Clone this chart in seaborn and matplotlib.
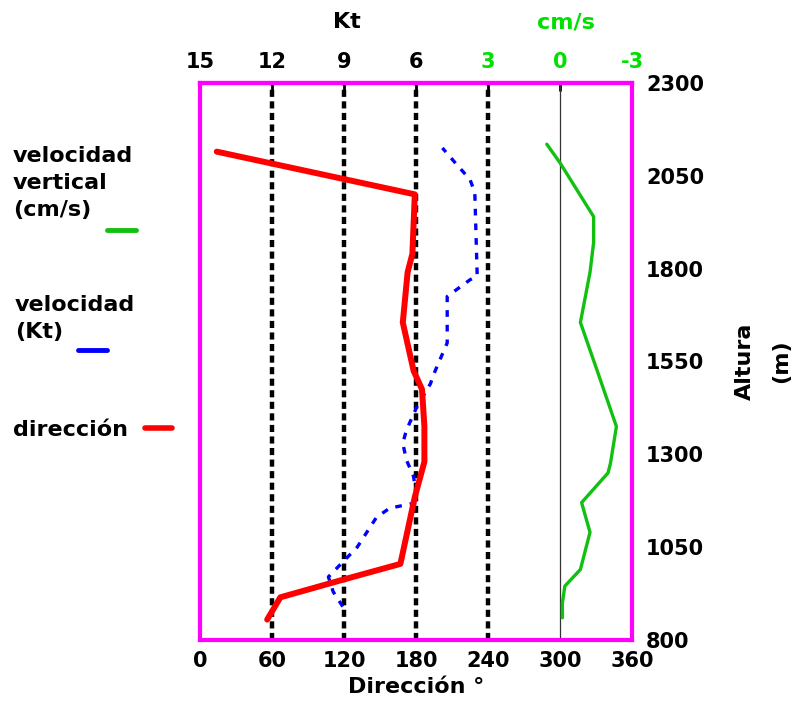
import matplotlib
matplotlib.use('Agg')
import matplotlib.pyplot as plt
from matplotlib.lines import Line2D
import seaborn as sns
import numpy as np
import pandas as pd

#-----------
# DATA
#-----------
# direction (degrees) vs altitude (m)
alt_dir = [2115, 2000, 1840, 1790, 1655, 1525, 1475, 1375, 1280, 1185, 1005, 965, 915, 855]
dir_deg = [14, 179, 177, 173, 169, 178, 185, 187, 187, 179, 167, 122, 67, 56]

# wind speed (Kt) vs altitude (m)
alt_kt = [2125, 2080, 2040, 2005, 1780, 1770, 1725, 1600, 1525, 1490, 1430, 1365,
          1330, 1285, 1240, 1170, 1155, 1130, 1050, 1010, 970, 930, 890]
speed_kt = [4.9, 4.3, 3.75, 3.55, 3.45, 3.75, 4.7, 4.7, 5.2, 5.4, 5.95, 6.4,
            6.55, 6.4, 6.1, 5.95, 7.1, 7.65, 8.45, 9.05, 9.65, 9.45, 9.05]

# vertical velocity (cm/s) vs altitude (m)
alt_w = [2135, 2085, 1940, 1870, 1790, 1655, 1525, 1375, 1275, 1250, 1170, 1090, 990, 945, 900, 860]
w_cms = [0.55, 0.0, -1.4, -1.4, -1.25, -0.85, -1.55, -2.35, -2.1, -2.0, -0.9, -1.25, -0.85, -0.2, -0.1, -0.1]

dir_ticks = [0, 60, 120, 180, 240, 300, 360]
top_labels = ['15', '12', '9', '6', '3', '0', '-3']
alt_ticks = [800, 1050, 1300, 1550, 1800, 2050, 2300]

#-----------
# HELPERS
#-----------
def _kt_to_deg(kt):
  return (15 - np.asarray(kt)) * 20

def _cms_to_deg(cms):
  return 300 - 20 * np.asarray(cms)

#-----------
# PLOT
#-----------
sns.set_theme(style='white')
plt.rcParams['font.family'] = ['DejaVu Sans']
plt.rcParams['font.weight'] = 'bold'
plt.rcParams['text.color'] = 'black'
plt.rcParams['axes.labelcolor'] = 'black'
plt.rcParams['xtick.color'] = 'black'
plt.rcParams['ytick.color'] = 'black'

MAGENTA = '#ff00ff'
GREEN = '#11c011'
TXT_GREEN = '#00e000'

df_dir = pd.DataFrame({'alt': alt_dir, 'deg': dir_deg})
df_kt = pd.DataFrame({'alt': alt_kt, 'deg': _kt_to_deg(speed_kt)})
df_w = pd.DataFrame({'alt': alt_w, 'deg': _cms_to_deg(w_cms)})

fig = plt.figure(figsize=(7.98, 7.09), dpi=100)
ax = fig.add_axes([0.2506, 0.0973, 0.5414, 0.7857])

# reference verticals
for d in [60, 120, 180, 240]:
  ax.axvline(d, color='black', lw=3.2, dashes=(1.6, 1.0), zorder=1)
ax.axvline(300, color='#333333', lw=0.9, zorder=1)

sns.lineplot(data=df_kt, x='deg', y='alt', orient='y', estimator=None, ax=ax,
             color='#0000ff', lw=2.4, zorder=3)
ax.lines[-1].set_dashes((2.0, 2.4))
sns.lineplot(data=df_w, x='deg', y='alt', orient='y', estimator=None, ax=ax,
             color=GREEN, lw=2.4, zorder=3)
sns.lineplot(data=df_dir, x='deg', y='alt', orient='y', estimator=None, ax=ax,
             color='#ff0000', lw=4.3, zorder=4)

ax.set_xlim(0, 360)
ax.set_ylim(800, 2300)
ax.set_xticks(dir_ticks)
ax.set_yticks(alt_ticks)
ax.tick_params(axis='x', direction='in', length=6, width=2, color='black', labelsize=15, pad=8)
ax.yaxis.tick_right()
ax.yaxis.set_label_position('right')
ax.tick_params(axis='y', length=0, labelsize=15, pad=10)
ax.set_xlabel('Dirección °', fontsize=16, fontweight='bold', labelpad=4)
ax.set_ylabel('Altura\n(m)', fontsize=16, fontweight='bold', labelpad=22, linespacing=2.0)
for s in ax.spines.values():
  s.set_color(MAGENTA)
  s.set_linewidth(3)
  s.set_zorder(5)

# top axis: Kt and cm/s
top = ax.secondary_xaxis('top')
top.set_xticks(dir_ticks)
top.set_xticklabels(top_labels)
top.tick_params(direction='in', length=6, width=2, color='black', labelsize=15, pad=8)
top.spines['top'].set_color(MAGENTA)
top.spines['top'].set_linewidth(3)
for lbl in top.get_xticklabels()[4:]:
  lbl.set_color(TXT_GREEN)

fig.text(347 / 798, 1 - 22 / 709, 'Kt', ha='center', va='center', fontsize=16, fontweight='bold')
fig.text(566 / 798, 1 - 22 / 709, 'cm/s', ha='center', va='center', fontsize=16,
         fontweight='bold', color=TXT_GREEN)

# legend on the left
fig.text(13 / 798, 1 - 146 / 709, 'velocidad\nvertical\n(cm/s)', ha='left', va='top',
         fontsize=16, fontweight='bold', linespacing=1.45)
fig.add_artist(Line2D([107 / 798, 136 / 798], [1 - 230 / 709] * 2, color=GREEN, lw=3.5))
fig.text(15 / 798, 1 - 295 / 709, 'velocidad\n(Kt)', ha='left', va='top',
         fontsize=16, fontweight='bold', linespacing=1.45)
fig.add_artist(Line2D([78 / 798, 107 / 798], [1 - 350 / 709] * 2, color='#0000ff', lw=3.5))
fig.text(13 / 798, 1 - 430 / 709, 'dirección', ha='left', va='center',
         fontsize=16, fontweight='bold')
fig.add_artist(Line2D([145 / 798, 172 / 798], [1 - 428 / 709] * 2, color='#ff0000', lw=4))

fig.savefig('out.png', dpi=100)
